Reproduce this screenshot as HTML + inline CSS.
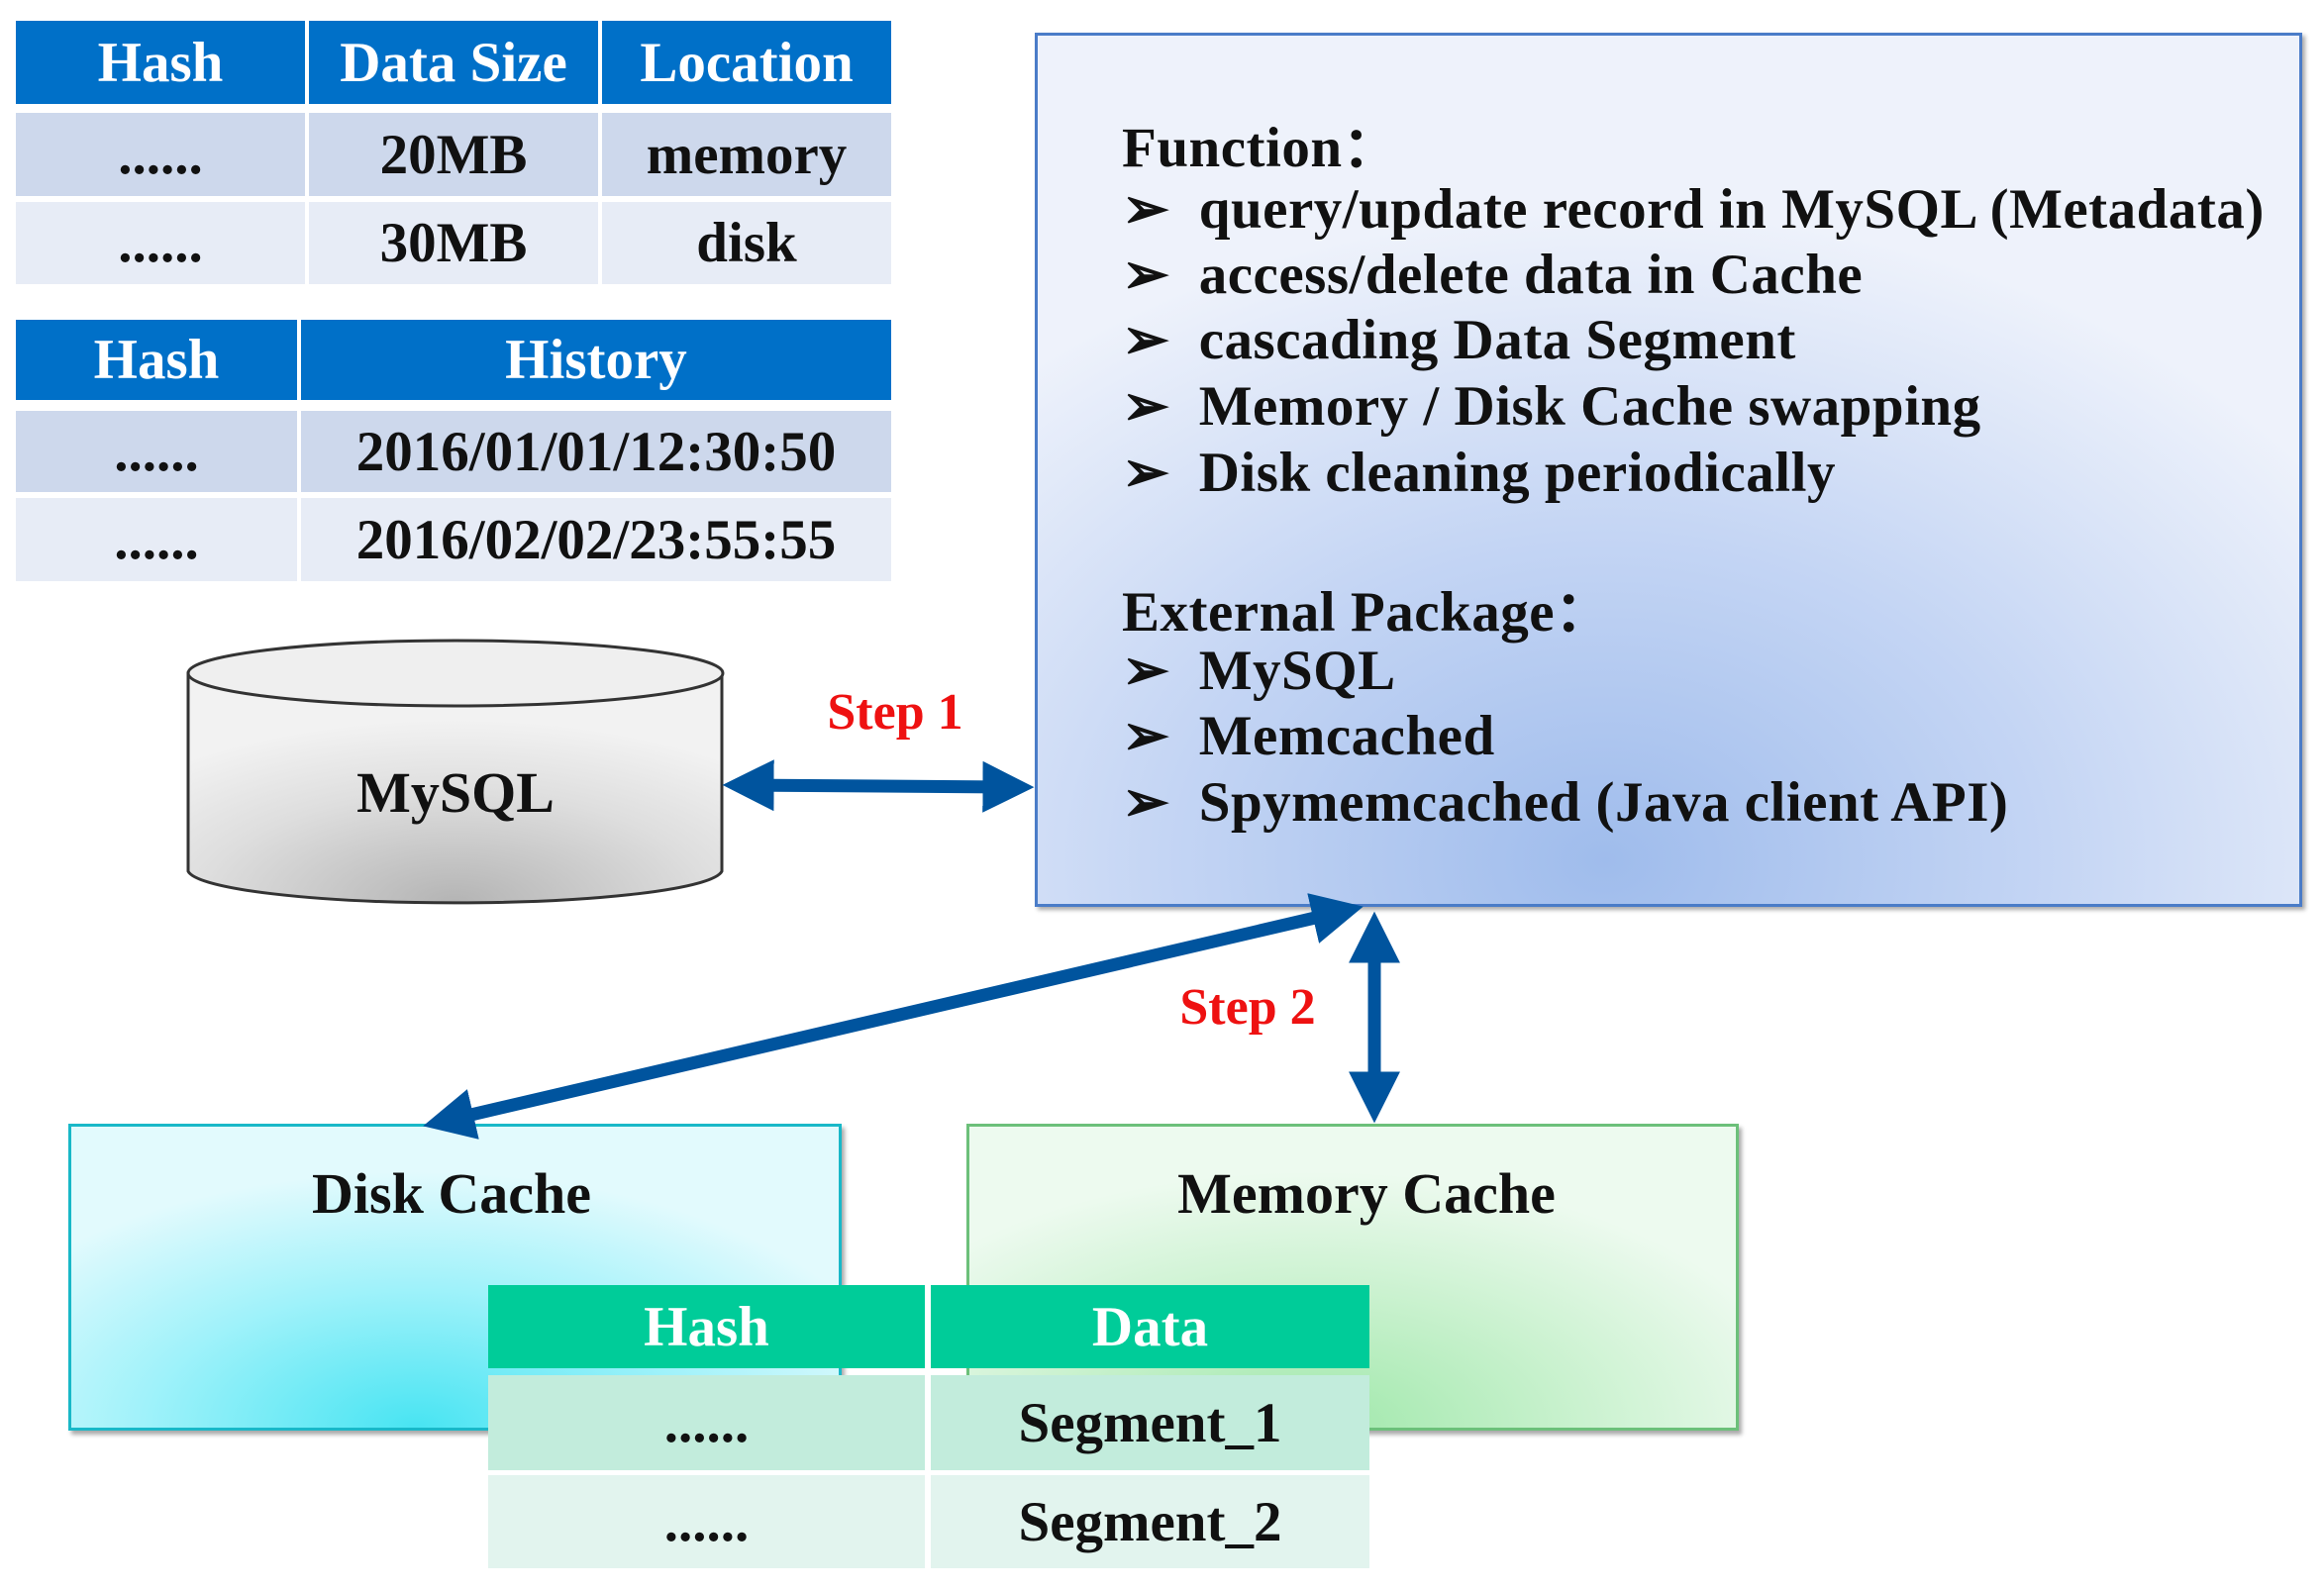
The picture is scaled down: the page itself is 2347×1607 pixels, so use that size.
<!DOCTYPE html>
<html><head><meta charset="utf-8"><style>
body{margin:0;width:2347px;height:1607px;background:#fff;position:relative;overflow:hidden;font-family:"Liberation Serif",serif;font-weight:bold}
.a{position:absolute;box-sizing:border-box}
.c{position:absolute;box-sizing:border-box;display:flex;align-items:center;justify-content:center;font-size:57px;color:#111}
.h{background:#0070c8;color:#fff}
.r1{background:#cdd8ec}.r2{background:#e7ecf6}
.g{background:#00cc99;color:#fff}
.g1{background:#c2ecdc}.g2{background:#e2f4ee}
.t{position:absolute;font-size:57px;color:#111;white-space:nowrap;letter-spacing:0.5px}
.ct{position:absolute;font-size:58px;color:#111;white-space:nowrap;transform:translateX(-50%)}
</style></head><body>
<!-- table 1 -->
<div class="c h" style="left:16px;top:21px;width:292px;height:84px">Hash</div>
<div class="c h" style="left:312px;top:21px;width:292px;height:84px">Data Size</div>
<div class="c h" style="left:608px;top:21px;width:292px;height:84px">Location</div>
<div class="c r1" style="left:16px;top:114px;width:292px;height:84px">......</div>
<div class="c r1" style="left:312px;top:114px;width:292px;height:84px">20MB</div>
<div class="c r1" style="left:608px;top:114px;width:292px;height:84px">memory</div>
<div class="c r2" style="left:16px;top:204px;width:292px;height:83px">......</div>
<div class="c r2" style="left:312px;top:204px;width:292px;height:83px">30MB</div>
<div class="c r2" style="left:608px;top:204px;width:292px;height:83px">disk</div>
<!-- table 2 -->
<div class="c h" style="left:16px;top:323px;width:284px;height:81px">Hash</div>
<div class="c h" style="left:304px;top:323px;width:596px;height:81px">History</div>
<div class="c r1" style="left:16px;top:415px;width:284px;height:82px">......</div>
<div class="c r1" style="left:304px;top:415px;width:596px;height:82px">2016/01/01/12:30:50</div>
<div class="c r2" style="left:16px;top:503px;width:284px;height:84px">......</div>
<div class="c r2" style="left:304px;top:503px;width:596px;height:84px">2016/02/02/23:55:55</div>
<!-- main box -->
<div class="a" style="left:1045px;top:33px;width:1280px;height:883px;border:3px solid #4a7cc8;background:radial-gradient(ellipse 70% 75% at 45% 95%,#9fbcec 0%,#c4d5f4 50%,#eef2fb 100%);box-shadow:3px 3px 4px #aaa"></div>
<div class="t" style="left:1133px;top:103px">Function：</div>
<div class="t" style="left:1133px;top:178px">➢&nbsp;&nbsp;query/update record in MySQL (Metadata)</div>
<div class="t" style="left:1133px;top:244px">➢&nbsp;&nbsp;access/delete data in Cache</div>
<div class="t" style="left:1133px;top:310px">➢&nbsp;&nbsp;cascading Data Segment</div>
<div class="t" style="left:1133px;top:377px">➢&nbsp;&nbsp;Memory / Disk Cache swapping</div>
<div class="t" style="left:1133px;top:444px">➢&nbsp;&nbsp;Disk cleaning periodically</div>
<div class="t" style="left:1133px;top:572px">External Package：</div>
<div class="t" style="left:1133px;top:644px">➢&nbsp;&nbsp;MySQL</div>
<div class="t" style="left:1133px;top:710px">➢&nbsp;&nbsp;Memcached</div>
<div class="t" style="left:1133px;top:777px">➢&nbsp;&nbsp;Spymemcached (Java client API)</div>
<!-- caches -->
<div class="a" style="left:69px;top:1135px;width:781px;height:310px;border:3px solid #19b8c8;background:radial-gradient(ellipse 65% 85% at 45% 100%,#48e4f2 0%,#a0f2fa 55%,#e2fafd 100%);box-shadow:3px 4px 4px #aaa"></div>
<div class="ct" style="left:456px;top:1172px">Disk Cache</div>
<div class="a" style="left:976px;top:1135px;width:780px;height:310px;border:3px solid #6cc07a;background:radial-gradient(ellipse 65% 85% at 45% 100%,#a0e8ab 0%,#cbf2d0 55%,#edfaef 100%);box-shadow:3px 4px 4px #aaa"></div>
<div class="ct" style="left:1380px;top:1172px">Memory Cache</div>
<!-- green table -->
<div class="c g" style="left:493px;top:1298px;width:441px;height:84px">Hash</div>
<div class="c g" style="left:940px;top:1298px;width:443px;height:84px">Data</div>
<div class="c g1" style="left:493px;top:1389px;width:441px;height:96px">......</div>
<div class="c g1" style="left:940px;top:1389px;width:443px;height:96px">Segment_1</div>
<div class="c g2" style="left:493px;top:1490px;width:441px;height:94px">......</div>
<div class="c g2" style="left:940px;top:1490px;width:443px;height:94px">Segment_2</div>
<!-- svg: cylinder and arrows -->
<svg class="a" style="left:0;top:0" width="2347" height="1607">
<defs>
<radialGradient id="cy" cx="0.5" cy="1" r="0.8"><stop offset="0" stop-color="#b4b4b4"/><stop offset="0.6" stop-color="#dedede"/><stop offset="1" stop-color="#f2f2f2"/></radialGradient>
<marker id="ah" markerWidth="4" markerHeight="4" refX="2.2" refY="2" orient="auto-start-reverse" markerUnits="strokeWidth"><path d="M0,0 L4,2 L0,4 Z" fill="#00549e"/></marker>
</defs>
<path d="M190,680 L190,880 A270,34 0 0 0 729,880 L729,680 Z" fill="url(#cy)" stroke="#333" stroke-width="3"/>
<ellipse cx="460" cy="680" rx="270" ry="33" fill="#efefef" stroke="#333" stroke-width="3"/>
<text x="460" y="820" font-size="58" text-anchor="middle" font-family="Liberation Serif" font-weight="bold" fill="#111">MySQL</text>
<line x1="753" y1="793" x2="1021" y2="795" stroke="#00549e" stroke-width="13" marker-start="url(#ah)" marker-end="url(#ah)"/>
<line x1="450" y1="1132" x2="1354" y2="921" stroke="#00549e" stroke-width="13" marker-start="url(#ah)" marker-end="url(#ah)"/>
<line x1="1388" y1="944" x2="1388" y2="1111" stroke="#00549e" stroke-width="13" marker-start="url(#ah)" marker-end="url(#ah)"/>
<text x="904" y="736" font-size="52" text-anchor="middle" font-family="Liberation Serif" font-weight="bold" fill="#ee1111">Step 1</text>
<text x="1260" y="1034" font-size="52" text-anchor="middle" font-family="Liberation Serif" font-weight="bold" fill="#ee1111">Step 2</text>
</svg>
</body></html>
